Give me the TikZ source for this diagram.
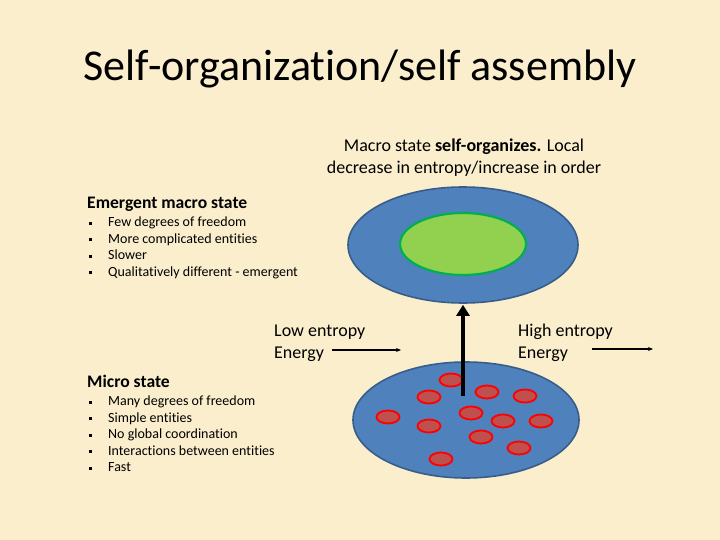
\documentclass[tikz,border=0pt]{standalone}
\usepackage{fontspec}
\setmainfont{Carlito}[Ligatures={NoCommon}]
\usetikzlibrary{shapes.geometric,arrows.meta}
\definecolor{bg}{HTML}{FAEECD}
\definecolor{blueF}{HTML}{4F81BD}
\definecolor{blueD}{HTML}{385D8A}
\definecolor{greenF}{HTML}{92D050}
\definecolor{greenD}{HTML}{00B050}
\definecolor{redF}{HTML}{C0504D}
\newcommand{\sqb}{\makebox[19pt][l]{\raisebox{2.4pt}{\rule{2.6pt}{2.6pt}}}}
\tikzset{
  bigell/.style={ellipse, draw=blueD, fill=blueF, line width=1.6pt, inner sep=0pt},
  dot/.style={ellipse, draw=red, fill=redF, line width=1.8pt, minimum width=23pt, minimum height=13pt, inner sep=0pt},
  txt/.style={inner sep=0pt, anchor=base west},
  bul/.style={inner sep=0pt, anchor=north west, align=left, font=\fontsize{14}{16.5}\selectfont},
  earrow/.style={-{Stealth[length=5pt,width=4pt]}, line width=1.1pt}
}
\begin{document}
\begin{tikzpicture}[x=1pt,y=-1pt]
\fill[bg] (0,0) rectangle (720,540);
\useasboundingbox (0,0) rectangle (720,540);
% title
\node[inner sep=0pt, anchor=base, font=\fontsize{44}{48}\selectfont] (title) at (360,81) {Self-organization/self assembly};
% macro caption
\node[inner sep=0pt, anchor=base, align=center, font=\fontsize{18}{22}\selectfont] (cap) at (464,174) {Macro state \textbf{self-organizes.} Local\\decrease in entropy/increase in order};
% emergent
\node[txt, font=\bfseries\fontsize{17.6}{20}\selectfont] (emh) at (87,208.5) {Emergent macro state};
\node[bul] (eml) at (89,217) {\sqb Few degrees of freedom\\\sqb More complicated entities\\\sqb Slower\\\sqb Qualitatively different - emergent};
% micro
\node[txt, font=\bfseries\fontsize{17.6}{20}\selectfont] (mih) at (87,387) {Micro state};
\node[bul] (mil) at (89,396) {\sqb Many degrees of freedom\\\sqb Simple entities\\\sqb No global coordination\\\sqb Interactions between entities\\\sqb Fast};
% ellipses
\node[bigell, minimum width=230pt, minimum height=116pt] (macro) at (463,245) {};
\node[ellipse, draw=greenD, fill=greenF, line width=2.2pt, minimum width=126pt, minimum height=62pt, inner sep=0pt] (core) at (463,244) {};
\node[bigell, minimum width=226pt, minimum height=116pt] (micro) at (466,420) {};
\foreach \n/\p in {1/{(451,380)},2/{(429,397)},3/{(487,392)},4/{(525,396)},5/{(388,417)},6/{(471,413)},7/{(503,421)},8/{(541,421)},9/{(429,426)},10/{(481,437)},11/{(519,448)},12/{(441,459)}}
  \node[dot] (d\n) at \p {};
% vertical arrow
\coordinate (a0) at (463,396);
\draw[line width=4.5pt, -{Triangle[length=11pt,width=13pt]}] (a0) -- ([yshift=-1pt]macro.south);
% energy labels
\node[bul, font=\fontsize{18}{22}\selectfont] (low) at (274,325) {Low entropy\\Energy};
\node[bul, font=\fontsize{18}{22}\selectfont] (high) at (518,324) {High entropy\\Energy};
\coordinate (l0) at (332,350); \coordinate (l1) at (401,350);
\coordinate (h0) at (592,349); \coordinate (h1) at (653,349);
\draw[earrow] (l0) -- (l1);
\draw[earrow] (h0) -- (h1);
\end{tikzpicture}
\end{document}
